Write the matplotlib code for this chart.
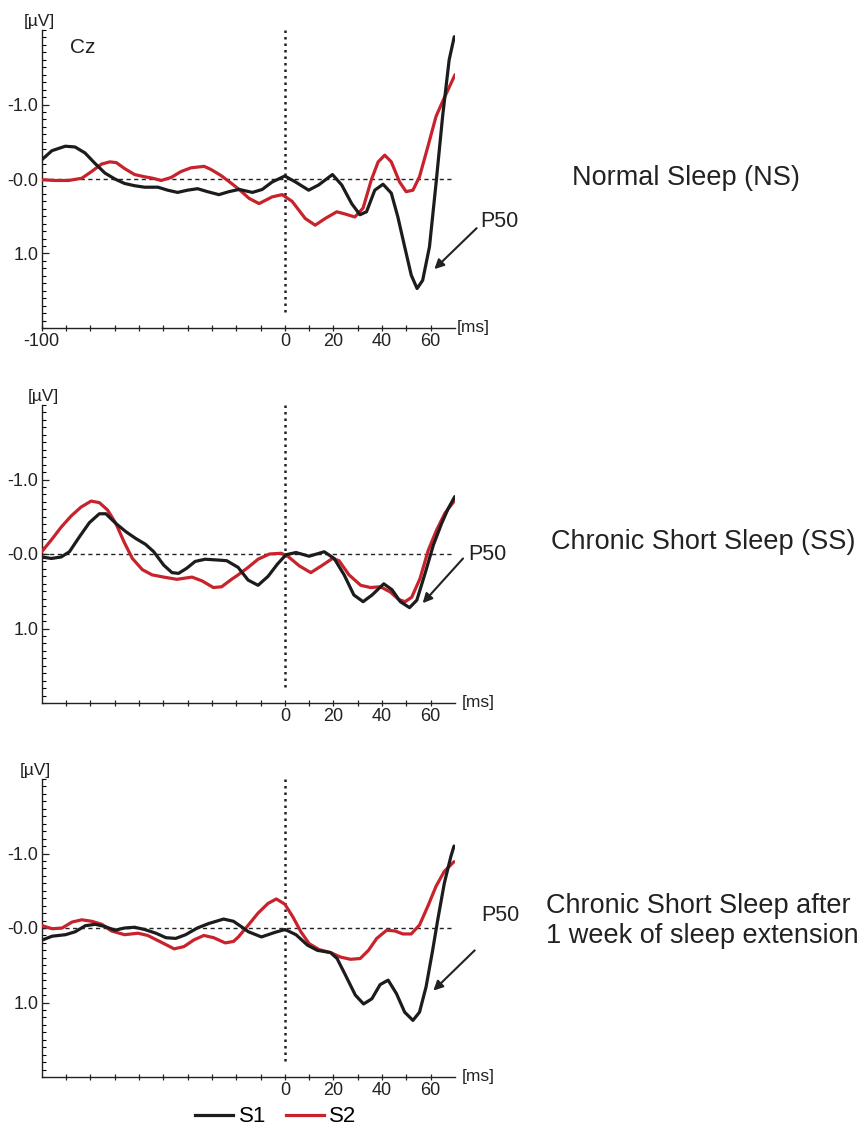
import matplotlib
matplotlib.use("Agg")
import matplotlib.pyplot as plt
from matplotlib.ticker import MultipleLocator, FixedLocator

plt.rcParams['font.family'] = ['Liberation Sans', 'DejaVu Sans']

# ---------------- data (ms, µV; positive plotted downward) ----------------
ns_s1_t = [-99.9, -95.8, -90.3, -86.3, -82.2, -78.1, -74, -69.9, -65.9, -61.8, -57.7, -52.2, -48.2, -44.1, -40, -35.9, -31.8, -27.1, -23,
           -18.8, -13.3, -9.3, -5.2, 0, 4.4, 9.8, 13.9, 19.6, 23.4, 27.5, 30.9, 33.6, 37, 40.4, 43.8, 46.5, 49.3, 52, 54.4, 56.7, 59.5, 62.2, 64.9, 67.6, 69.7]
ns_s1_v = [-0.26, -0.38, -0.44, -0.43, -0.35, -0.21, -0.08, 0.0, 0.06, 0.09, 0.11, 0.11, 0.15, 0.18, 0.15, 0.13, 0.17, 0.21, 0.17,
           0.14, 0.18, 0.14, 0.04, -0.04, 0.04, 0.15, 0.08, -0.06, 0.08, 0.33, 0.48, 0.44, 0.15, 0.07, 0.19, 0.51, 0.91, 1.29, 1.47, 1.36, 0.91, 0.06, -0.84, -1.60, -1.91]
ns_s2_t = [-99.9, -94.4, -89, -83.5, -79.5, -75.4, -72, -69.3, -65.9, -61.8, -57.7, -54.3, -50.9, -46.8, -42.7, -38.6, -33.2, -30.5, -26.4, -22.3,
           -18.8, -14.7, -10.6, -5.2, -1.1, 3, 8.4, 12.5, 16.6, 21.4, 24.8, 28.8, 32.2, 35.6, 38.4, 41.1, 43.8, 47.2, 49.9, 52.7, 55.4, 58.8, 62.2, 64.9, 68.3, 70]
ns_s2_v = [0.01, 0.02, 0.02, -0.01, -0.10, -0.20, -0.23, -0.22, -0.14, -0.06, -0.03, -0.01, 0.02, -0.02, -0.10, -0.15, -0.17, -0.13, -0.05, 0.05,
           0.14, 0.26, 0.33, 0.24, 0.21, 0.30, 0.53, 0.62, 0.53, 0.44, 0.47, 0.51, 0.39, 0.01, -0.23, -0.32, -0.23, 0.04, 0.17, 0.15, -0.03, -0.43, -0.84, -1.04, -1.28, -1.40]

ss_s1_t = [-100, -96, -92, -88.6, -84.5, -80.4, -76.3, -73.6, -69.5, -65.4, -61.4, -57.3, -53.9, -49.8, -46.4, -43.7, -40.3, -36.9, -32.8, -28, -23.9,
           -19.2, -15.1, -11, -6.9, -2.9, 0.5, 4.6, 10, 16.2, 20.3, 24.4, 28.4, 32.2, 35.9, 40.7, 44.1, 47.5, 51.3, 54.3, 57.7, 61.1, 64.5, 67.2, 69.9]
ss_s1_v = [0.04, 0.06, 0.04, -0.03, -0.23, -0.42, -0.54, -0.54, -0.41, -0.30, -0.21, -0.13, -0.03, 0.15, 0.25, 0.26, 0.19, 0.10, 0.07, 0.08, 0.09,
           0.18, 0.35, 0.42, 0.30, 0.13, 0.01, -0.02, 0.03, -0.03, 0.06, 0.28, 0.55, 0.64, 0.55, 0.40, 0.48, 0.64, 0.72, 0.62, 0.26, -0.12, -0.41, -0.61, -0.77]
ss_s2_t = [-100, -96, -92, -87.9, -83.8, -79.7, -76.3, -72.9, -69.5, -66.1, -62.7, -58.6, -54.6, -49.8, -44.4, -38.2, -34.1, -29.4, -26, -21.9,
           -19.2, -15.1, -11, -6.3, -1.5, 1.2, 6, 10.7, 15.5, 19.6, 22.3, 26.4, 31.2, 35.2, 39.3, 43.4, 46.8, 49.5, 52.2, 55.6, 59, 62.4, 65.9, 69.9]
ss_s2_v = [-0.03, -0.19, -0.36, -0.51, -0.63, -0.71, -0.69, -0.59, -0.41, -0.16, 0.06, 0.21, 0.28, 0.31, 0.34, 0.31, 0.36, 0.45, 0.44, 0.34,
           0.28, 0.18, 0.07, 0.0, -0.01, 0.03, 0.16, 0.25, 0.15, 0.06, 0.09, 0.28, 0.42, 0.45, 0.44, 0.51, 0.61, 0.64, 0.58, 0.33, -0.05, -0.32, -0.55, -0.72]

ext_s1_t = [-99.7, -95.7, -90.2, -86.2, -82.1, -78, -74, -69.9, -65.9, -61.8, -57.7, -53, -48.9, -44.9, -40.8, -36, -31.3, -25.2, -21.1,
            -17.1, -15, -9.6, -4.2, 0.1, 4.6, 9.3, 13.4, 18.8, 21.5, 24.9, 29, 32.4, 35.8, 39.2, 42.5, 45.9, 49.3, 52.7, 55.4, 58.1, 60.8, 62.9, 65.6, 68.3, 69.6]
ext_s1_v = [0.16, 0.11, 0.09, 0.05, -0.03, -0.05, -0.02, 0.03, 0.0, -0.01, 0.02, 0.07, 0.13, 0.14, 0.09, 0.0, -0.06, -0.12, -0.09,
            0.0, 0.05, 0.12, 0.06, 0.02, 0.09, 0.23, 0.30, 0.33, 0.41, 0.63, 0.90, 1.02, 0.95, 0.76, 0.70, 0.88, 1.13, 1.24, 1.13, 0.79, 0.30, -0.11, -0.60, -0.96, -1.10]
ext_s2_t = [-99.7, -95.7, -91.6, -87.5, -83.5, -79.4, -75.3, -71.3, -65.9, -60.4, -56.4, -50.9, -45.5, -41.5, -37.4, -33.3, -29.3, -24.5, -21.1,
            -19.1, -15, -11, -6.9, -3.5, 0, 3.3, 6.6, 10, 14.1, 18.8, 22.9, 27, 31, 34.4, 37.8, 41.9, 45.3, 48.6, 52, 55.4, 58.8, 62.2, 65.6, 69.6]
ext_s2_v = [-0.03, 0.01, 0.0, -0.08, -0.11, -0.09, -0.05, 0.04, 0.09, 0.07, 0.10, 0.19, 0.28, 0.25, 0.16, 0.10, 0.13, 0.20, 0.18,
            0.12, -0.04, -0.20, -0.33, -0.39, -0.32, -0.15, 0.05, 0.21, 0.29, 0.33, 0.39, 0.42, 0.41, 0.30, 0.14, 0.03, 0.04, 0.08, 0.08, -0.04, -0.29, -0.56, -0.76, -0.89]

titles = ["Normal Sleep (NS)", "Chronic Short Sleep (SS)",
          "Chronic Short Sleep after\n1 week of sleep extension"]
ytick_vals = [-1.0, 0.0, 1.0]
ytick_labels = ["-1.0", "-0.0", "1.0"]
series = [(ns_s1_t, ns_s1_v, ns_s2_t, ns_s2_v),
          (ss_s1_t, ss_s1_v, ss_s2_t, ss_s2_v),
          (ext_s1_t, ext_s1_v, ext_s2_t, ext_s2_v)]

BLACK = "#1c1c1c"
RED = "#c8232c"
TXT = "#222222"
W, H = 865, 1127
fig = plt.figure(figsize=(W / 100, H / 100), dpi=100)

# pixel layout: (top, bottom) of each axes
panels_px = [(30, 328), (405, 703), (779, 1077)]
left_px, right_px = 41.7, 455
uv_x_px = [39, 43.5, 35]
ms_x_px = [457, 462, 462]
title_pos = [(572, 178), (551, 542), (546, 921)]
p50_text = [(80.3, 0.57), (75.5, 0.01), (80.6, -0.17)]
p50_tail = [(78.9, 0.66), (73.3, 0.06), (78.1, 0.30)]
p50_head = [(61.5, 1.21), (56.7, 0.66), (61.1, 0.84)]

for i, ((top, bot), (t1, v1, t2, v2)) in enumerate(zip(panels_px, series)):
    aw = right_px - left_px
    ax = fig.add_axes([left_px / W, 1 - bot / H, aw / W, (bot - top) / H])
    ax.set_xlim(-100, 70)
    ax.set_ylim(2, -2)
    ax.patch.set_alpha(0)
    for s in ("top", "right"):
        ax.spines[s].set_visible(False)
    for s in ("left", "bottom"):
        ax.spines[s].set_linewidth(1.0)
        ax.spines[s].set_color(TXT)

    ax.axhline(0, color=TXT, lw=1.0, ls=(0, (3, 2.5)), zorder=1)
    ax.plot([0, 0], [-2, 1.83], color=TXT, lw=1.8, ls=(0, (1, 1.6)), zorder=1)

    ax.plot(t2, v2, color=RED, lw=2.3, solid_joinstyle="round", solid_capstyle="round", zorder=3)
    ax.plot(t1, v1, color=BLACK, lw=2.3, solid_joinstyle="round", solid_capstyle="round", zorder=4)

    # ticks
    if i == 0:
        xt = [-100, 0, 20, 40, 60]
        xl = ["-100", "0", "20", "40", "60"]
    else:
        xt = [0, 20, 40, 60]
        xl = ["0", "20", "40", "60"]
    ax.xaxis.set_major_locator(FixedLocator(xt))
    ax.set_xticklabels(xl)
    ax.xaxis.set_minor_locator(FixedLocator([x for x in range(-90, 61, 10) if x not in xt]))
    ax.yaxis.set_major_locator(FixedLocator(ytick_vals))
    ax.set_yticklabels(ytick_labels)
    ax.yaxis.set_minor_locator(MultipleLocator(0.1))
    ax.tick_params(axis="x", which="both", direction="inout", length=5, width=0.9,
                   labelsize=13, pad=1, colors=TXT)
    ax.tick_params(axis="y", which="major", direction="in", length=5, width=0.9,
                   labelsize=13, pad=2.5, colors=TXT)
    ax.tick_params(axis="y", which="minor", direction="in", length=3, width=0.8)

    # axis unit labels
    ax.text((uv_x_px[i] - left_px) / aw, 1.004, "[µV]", transform=ax.transAxes,
            ha="center", va="bottom", fontsize=12.5, color=TXT, clip_on=False)
    ax.text((ms_x_px[i] - left_px) / aw, 0.0, "[ms]", transform=ax.transAxes,
            ha="left", va="center", fontsize=12.5, color=TXT, clip_on=False)
    if i == 0:
        ax.text(-88.5, -1.77, "Cz", ha="left", va="center", fontsize=15, color=TXT)

    ax.annotate("", xy=p50_head[i], xytext=p50_tail[i],
                arrowprops=dict(arrowstyle="-|>", color=TXT, lw=1.5,
                                mutation_scale=14, shrinkA=0, shrinkB=0),
                annotation_clip=False)
    ax.text(p50_text[i][0], p50_text[i][1], "P50", ha="left", va="center",
            fontsize=15.5, color=TXT, clip_on=False)

    tx, ty = title_pos[i]
    fig.text(tx / W, 1 - ty / H, titles[i], ha="left", va="center", fontsize=19.5,
             color=TXT, linespacing=1.2)

# legend
leg_ax = fig.axes[-1]
h1, = leg_ax.plot([], [], color=BLACK, lw=2.3, label="S1")
h2, = leg_ax.plot([], [], color=RED, lw=2.3, label="S2")
fig.legend(handles=[h1, h2], loc="center", bbox_to_anchor=(276 / W, 1 - 1117 / H),
           ncol=2, frameon=False, fontsize=16, handlelength=1.7, handletextpad=0.25,
           columnspacing=0.9, borderaxespad=0.2, borderpad=0.2)

fig.savefig("out.png", dpi=100)
